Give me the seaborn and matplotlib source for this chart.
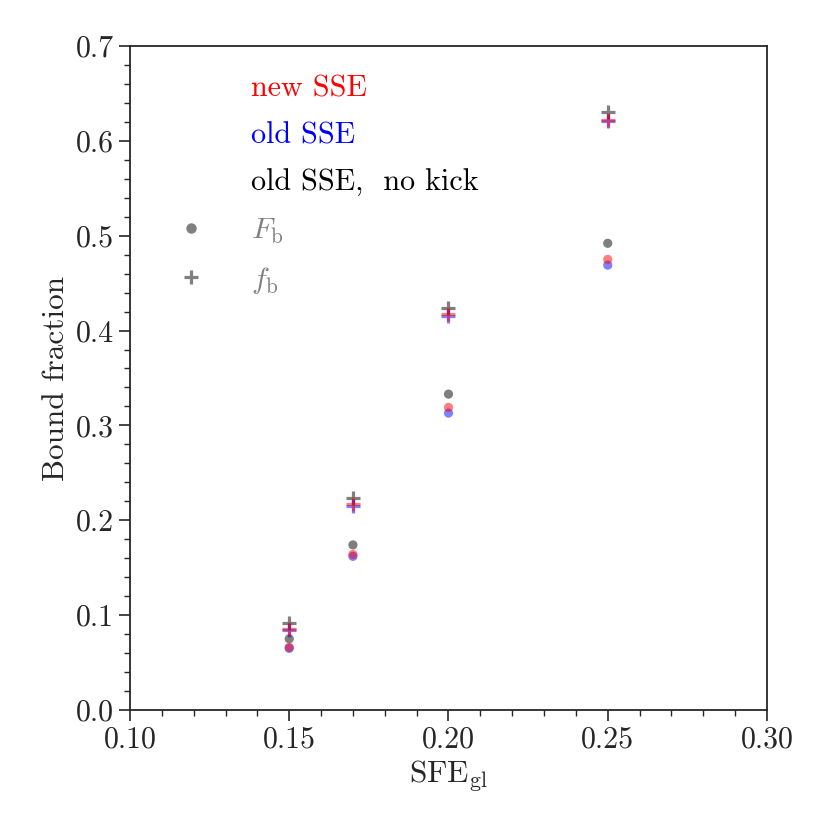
import numpy as np
import pandas as pd
import matplotlib
matplotlib.use("Agg")
import matplotlib.pyplot as plt
import seaborn as sns
from matplotlib.lines import Line2D
from matplotlib.ticker import MultipleLocator

# --- data ---
sfe = [0.15, 0.17, 0.20, 0.25]
series = ["new SSE", "old SSE", "old SSE,  no kick"]
colors = {"new SSE": "red", "old SSE": "blue", "old SSE,  no kick": "black"}

# F_b (circles)
Fb_new = [0.066, 0.164, 0.319, 0.475]
Fb_old = [0.065, 0.162, 0.313, 0.469]
Fb_nokick = [0.075, 0.174, 0.333, 0.492]
# f_b (plus)
fb_new = [0.085, 0.217, 0.417, 0.622]
fb_old = [0.084, 0.215, 0.415, 0.621]
fb_nokick = [0.092, 0.224, 0.424, 0.630]

rows = []
for name, Fv, fv in zip(series, [Fb_new, Fb_old, Fb_nokick], [fb_new, fb_old, fb_nokick]):
    for x, a, b in zip(sfe, Fv, fv):
        rows.append({"sfe": x, "val": a, "series": name, "kind": "F"})
        rows.append({"sfe": x, "val": b, "series": name, "kind": "f"})
df = pd.DataFrame(rows)

sns.set_style("ticks")
plt.rcParams["font.family"] = ["cmr10", "DejaVu Serif"]
plt.rcParams["mathtext.fontset"] = "cm"
plt.rcParams["axes.unicode_minus"] = False
plt.rcParams["axes.formatter.use_mathtext"] = True

fig = plt.figure(figsize=(8.3, 8.3), dpi=100)
ax = fig.add_axes([0.1566, 0.1446, 0.7675, 0.8])

# draw order: no kick first, then old, then new on top
draw_order = series[::-1]
for name in draw_order:
    sub = df[(df["series"] == name) & (df["kind"] == "F")]
    sns.scatterplot(data=sub, x="sfe", y="val", color=colors[name], marker="o",
                    s=44, alpha=0.5, edgecolor="none", ax=ax, legend=False)
for name in draw_order:
    sub = df[(df["series"] == name) & (df["kind"] == "f")]
    sns.scatterplot(data=sub, x="sfe", y="val", color=colors[name], marker="+",
                    s=105, alpha=0.5, linewidth=2.3, ax=ax, legend=False)

ax.set_xlim(0.10, 0.30)
ax.set_ylim(0.0, 0.7)
ax.xaxis.set_major_locator(MultipleLocator(0.05))
ax.xaxis.set_minor_locator(MultipleLocator(0.01))
ax.yaxis.set_major_locator(MultipleLocator(0.1))
ax.yaxis.set_minor_locator(MultipleLocator(0.02))
ax.xaxis.set_major_formatter(matplotlib.ticker.FormatStrFormatter("%.2f"))
ax.yaxis.set_major_formatter(matplotlib.ticker.FormatStrFormatter("%.1f"))
ax.tick_params(which="major", direction="out", length=8, width=1.2, labelsize=21.5)
ax.tick_params(which="minor", direction="out", length=4, width=1.0)
for sp in ax.spines.values():
    sp.set_linewidth(1.3)
    sp.set_visible(True)

ax.set_xlabel(r"SFE$_{\mathrm{gl}}$", fontsize=22.5)
ax.set_ylabel("Bound fraction", fontsize=22.5)

handles = [Line2D([], [], linestyle="none") for _ in series]
handles += [Line2D([], [], linestyle="none", marker="o", color="gray", markersize=6.5),
            Line2D([], [], linestyle="none", marker="+", color="gray", markersize=10,
                   markeredgewidth=2.3)]
labels = series + [r"$F_{\mathrm{b}}$", r"$f_{\mathrm{b}}$"]
leg = ax.legend(handles, labels, loc="upper left", frameon=False, fontsize=21.7,
                handlelength=1.5, handletextpad=1.26, labelspacing=0.64,
                borderaxespad=0.0, bbox_to_anchor=(0.041, 0.975))
for txt, c in zip(leg.get_texts(), ["red", "blue", "black", "gray", "gray"]):
    txt.set_color(c)

fig.savefig("out.png", dpi=100)
